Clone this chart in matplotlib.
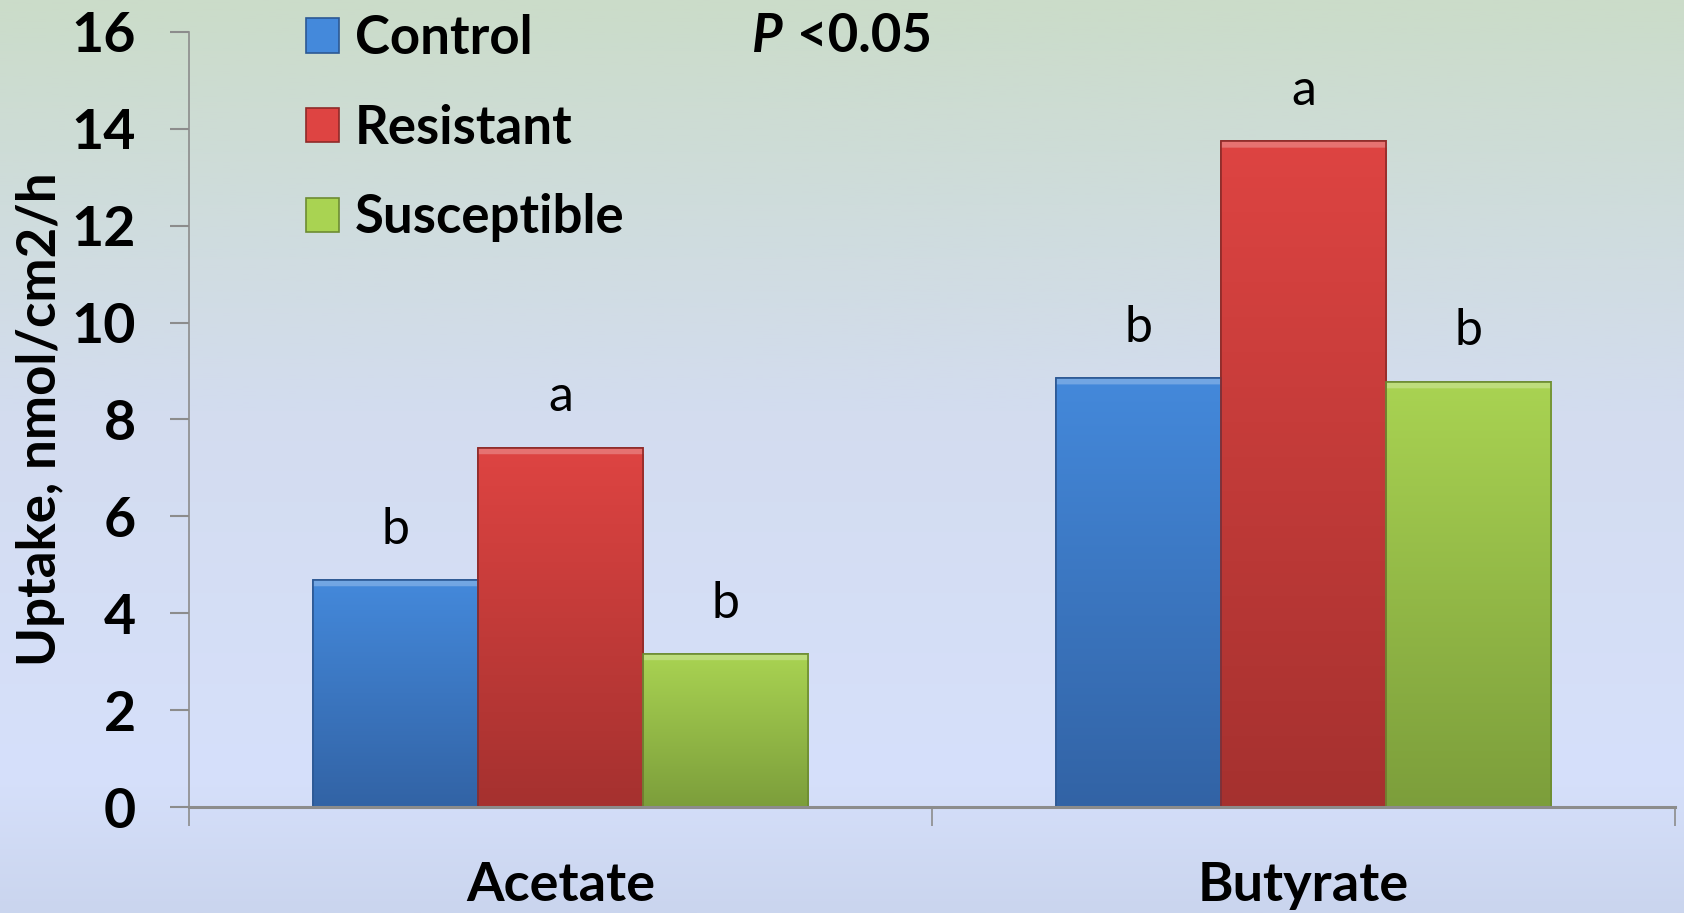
import numpy as np
import matplotlib
matplotlib.use("Agg")
import matplotlib.pyplot as plt
from matplotlib.patches import Patch
from matplotlib.colors import to_rgb

# ---- data ----
categories = ["Acetate", "Butyrate"]
series = ["Control", "Resistant", "Susceptible"]
control = [4.68, 8.85]
resistant = [7.41, 13.74]
susceptible = [3.15, 8.77]
letters_control = ["b", "b"]
letters_resistant = ["a", "a"]
letters_susceptible = ["b", "b"]
yticks = [0, 2, 4, 6, 8, 10, 12, 14, 16]

values = [control, resistant, susceptible]
letters = [letters_control, letters_resistant, letters_susceptible]
top_colors = ["#4489db", "#de4442", "#a9d352"]
bot_colors = ["#3263a5", "#a5312f", "#7c9e3b"]
edge_colors = ["#2c5894", "#8f2a28", "#6d8c32"]

plt.rcParams['font.family'] = ['Lato', 'DejaVu Sans']

W, H = 1684, 913
fig = plt.figure(figsize=(W / 100, H / 100), dpi=100)

# background gradient
bg = fig.add_axes([0, 0, 1, 1], zorder=-10)
stops_y = [0.0, 0.45, 0.85, 1.0]
stops_c = ["#cbdcc9", "#d3dcef", "#d6e0fb", "#cad5ee"]
yy = np.linspace(0, 1, 400)
grad = np.zeros((400, 1, 3))
for k in range(3):
    grad[:, 0, k] = np.interp(yy, stops_y, [to_rgb(c)[k] for c in stops_c])
bg.imshow(grad, aspect='auto', extent=[0, 1, 1, 0])
bg.set_xlim(0, 1)
bg.set_ylim(1, 0)
bg.axis('off')

ax = fig.add_axes([189 / W, 1 - 807 / H, (1675 - 189) / W, (807 - 32) / H])
ax.set_facecolor('none')

x = np.arange(len(categories))
width = 1 / 4.5
offsets = [-width, 0, width]

px_per_unit = (807 - 32) / 16.0
for i, (vals, tc, bc, ec) in enumerate(zip(values, top_colors, bot_colors, edge_colors)):
    bars = ax.bar(x + offsets[i], vals, width, color=tc, edgecolor=ec, linewidth=1.2, zorder=3)
    for b, v, lab in zip(bars, vals, letters[i]):
        x0 = b.get_x()
        x1 = x0 + b.get_width()
        h = b.get_height()
        n = 400
        t = np.linspace(0, 1, n)  # 0 top -> 1 bottom
        img = np.zeros((n, 1, 3))
        ct, cb = np.array(to_rgb(tc)), np.array(to_rgb(bc))
        for k in range(3):
            img[:, 0, k] = ct[k] + (cb[k] - ct[k]) * t
        # subtle bevel stripe on top
        stripe = (6 / px_per_unit) / h
        m = t < stripe
        img[m] = np.clip(img[m] * 0.75 + 0.25, 0, 1)
        ax.imshow(img, extent=[x0, x1, 0, h], aspect='auto', zorder=3.5,
                  clip_path=b, clip_on=True)
        ax.annotate(lab, (b.get_x() + b.get_width() / 2, h), xytext=(0, 20),
                    textcoords='offset points', ha='center', va='bottom',
                    fontsize=36, color='black', zorder=5)
    for b in bars:
        ax.add_patch(plt.Rectangle((b.get_x(), 0), b.get_width(), b.get_height(),
                                   fill=False, edgecolor=ec, linewidth=1.2, zorder=4))

ax.set_xlim(-0.5, len(categories) - 0.5)
ax.set_ylim(0, 16)
ax.set_yticks(yticks)
ax.set_yticklabels([str(v) for v in yticks], fontsize=40, fontweight='bold')
ax.set_xticks(x)
ax.set_xticklabels(categories, fontsize=39, fontweight='bold')
ax.set_xticks(np.arange(-0.5, len(categories), 1.0), minor=True)
ax.tick_params(axis='x', which='major', length=0, pad=39)
ax.tick_params(axis='x', which='minor', length=14, width=1.2, color='#8c8c8c', direction='out')
ax.tick_params(axis='y', which='major', length=14, width=1.5, color='#8c8c8c', direction='out', pad=24)
for s in ['top', 'right']:
    ax.spines[s].set_visible(False)
ax.spines['left'].set_color('#8c8c8c')
ax.spines['left'].set_linewidth(1.2)
ax.spines['bottom'].set_color('#8c8c8c')
ax.spines['bottom'].set_linewidth(2.2)
ax.spines['bottom'].set_zorder(6)

fig.text(41 / W, 1 - 419 / H, "Uptake, nmol/cm2/h", rotation=90, ha='center', va='center',
         fontsize=38, fontweight='bold')

handles = [Patch(facecolor=tc, edgecolor=ec, linewidth=1.2) for tc, ec in zip(top_colors, edge_colors)]
leg = fig.legend(handles, series, loc='upper left', bbox_to_anchor=(306 / W, 1 - 14 / H),
                 frameon=False, prop={'size': 38, 'weight': 'bold'},
                 handlelength=0.62, handleheight=0.62, handletextpad=0.3, labelspacing=0.77,
                 borderpad=0, borderaxespad=0)

fig.text(752 / W, 1 - 36 / H, "P", ha='left', va='center', fontsize=38, fontweight='bold',
         fontstyle='italic')
fig.text(797 / W, 1 - 36 / H, "<0.05", ha='left', va='center', fontsize=38, fontweight='bold')

fig.savefig("out.png", dpi=100)
